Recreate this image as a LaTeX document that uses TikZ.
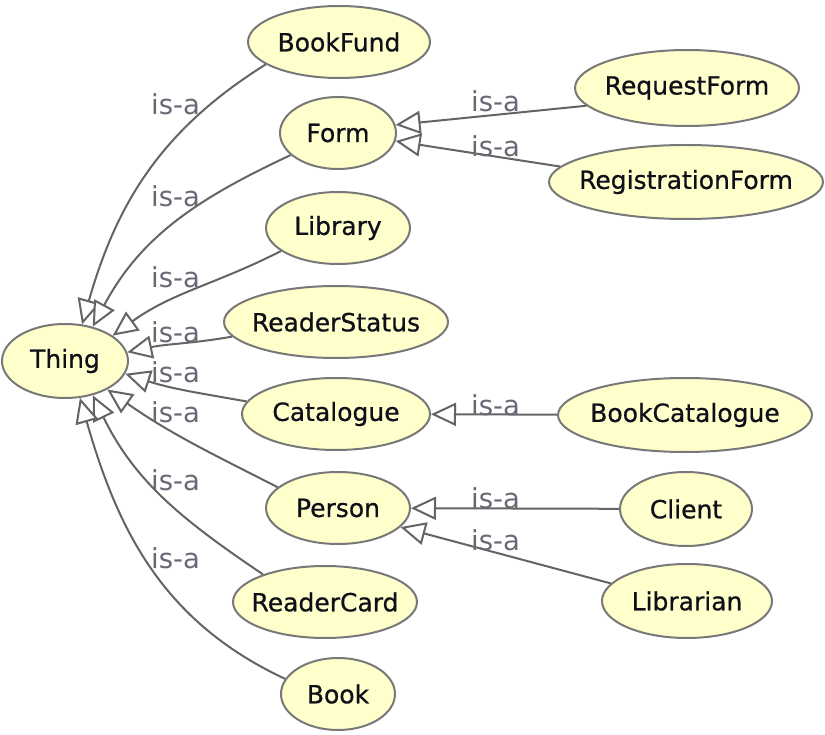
\documentclass[tikz,border=0pt]{standalone}
\usepackage{fontspec}
\setmainfont{DejaVu Sans}
% slightly heavier face for the class names
\newfontfamily\clsfont{DejaVu Sans}[FakeBold=0.7]
\usetikzlibrary{shapes.geometric,arrows.meta}
\definecolor{nodefill}{RGB}{255,255,204}
\definecolor{nodeline}{RGB}{120,120,120}
\definecolor{edgeline}{RGB}{100,100,100}
\definecolor{labeltext}{RGB}{105,105,118}
\definecolor{nametext}{RGB}{15,15,25}
% class names are set in a zero-width box so the ellipse size comes from the style only
\newcommand\clsname[1]{\makebox[0pt]{#1}}
\begin{document}
\begin{tikzpicture}[x=1pt,y=-1pt,
  cls/.style={ellipse, draw=nodeline, line width=2pt, fill=nodefill,
    text=nametext, inner sep=0pt, font=\clsfont\fontsize{25}{30}\selectfont,
    minimum height=72pt},
  isa/.style={draw=edgeline, line width=2pt,
    -{Triangle[length=25pt,width=23pt,open,fill=white]}},
  lbl/.style={anchor=base west, inner sep=0pt, text=labeltext,
    font=\fontsize{27.5}{32}\selectfont}]
\useasboundingbox[fill=white] (0,0) rectangle (825,735);

% classes
\node[cls, minimum width=126pt, minimum height=74pt] (thing) at (65,361) {\clsname{Thing}};
\node[cls, minimum width=182pt] (bookfund) at (339,42) {\clsname{BookFund}};
\node[cls, minimum width=116pt] (form) at (338,133) {\clsname{Form}};
\node[cls, minimum width=144pt] (library) at (338,228) {\clsname{Library}};
\node[cls, minimum width=224pt] (readerstatus) at (336,322) {\clsname{ReaderStatus}};
\node[cls, minimum width=188pt] (catalogue) at (336,414) {\clsname{Catalogue}};
\node[cls, minimum width=144pt] (person) at (338,508) {\clsname{Person}};
\node[cls, minimum width=184pt] (readercard) at (325,602) {\clsname{ReaderCard}};
\node[cls, minimum width=114pt] (book) at (338,694) {\clsname{Book}};
\node[cls, minimum width=224pt, minimum height=76pt] (requestform) at (687,88) {\clsname{RequestForm}};
\node[cls, minimum width=274pt, minimum height=74pt] (regform) at (686,182) {\clsname{RegistrationForm}};
\node[cls, minimum width=254pt, minimum height=74pt] (bookcat) at (685,415) {\clsname{BookCatalogue}};
\node[cls, minimum width=132pt, minimum height=74pt] (client) at (686,509) {\clsname{Client}};
\node[cls, minimum width=170pt, minimum height=74pt] (librarian) at (687,601) {\clsname{Librarian}};

% subclass links to Thing
\draw[isa] (bookfund.197) to[out=212,in=74] (thing.65);
\draw[isa] (form.205) to[out=205,in=62] (thing.51);
\draw[isa] (library.202) to[out=207,in=36] (thing.28);
\draw[isa] (readerstatus.188) to[out=190,in=12] (thing.8);
\draw[isa] (catalogue.172) to[out=170,in=-18] (thing.-12);
\draw[isa] (person.161) to[out=153,in=-35] (thing.-34);
\draw[isa] (readercard.156) to[out=146,in=-64] (thing.-51);
\draw[isa] (book.164) to[out=155,in=-74] (thing.-68);

% second-level subclass links
\draw[isa] (requestform.190) -- (form.8);
\draw[isa] (regform.173) -- (form.-8);
\draw[isa] (bookcat) -- (catalogue);
\draw[isa] (client) -- (person);
\draw[isa] (librarian.167) -- (person.-17);

% link labels
\node[lbl] (l1) at (151,115) {is-a};
\node[lbl] (l2) at (151,207) {is-a};
\node[lbl] (l3) at (151,288) {is-a};
\node[lbl] (l4) at (151,343) {is-a};
\node[lbl] (l5) at (151,382) {is-a};
\node[lbl] (l6) at (151,422) {is-a};
\node[lbl] (l7) at (151,490) {is-a};
\node[lbl] (l8) at (151,568) {is-a};
\node[lbl] (l9) at (471,112) {is-a};
\node[lbl] (l10) at (471,157) {is-a};
\node[lbl] (l11) at (471,415) {is-a};
\node[lbl] (l12) at (471,508) {is-a};
\node[lbl] (l13) at (471,550) {is-a};
\end{tikzpicture}
\end{document}
